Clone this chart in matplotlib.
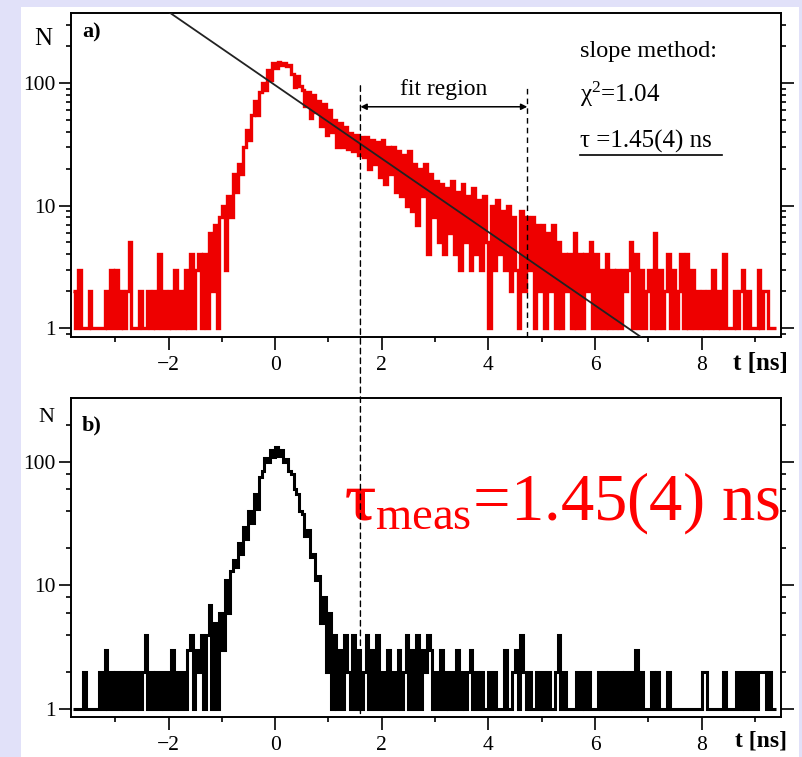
import numpy as np
import matplotlib.pyplot as plt
from matplotlib.patches import Rectangle, ConnectionPatch
from matplotlib.ticker import LogLocator, NullFormatter

plt.rcParams['font.family'] = ['Liberation Serif', 'DejaVu Serif']
plt.rcParams['mathtext.fontset'] = 'custom'
plt.rcParams['mathtext.rm'] = 'Liberation Serif'
plt.rcParams['mathtext.it'] = 'Liberation Serif:italic'
plt.rcParams['mathtext.bf'] = 'Liberation Serif:bold'

# histogram binning: 0.05 ns bins starting at -3.8 ns (20 bins per row = 1 ns)
bin_start = -3.8
bin_width = 0.05

# a) measured time spectrum (red)
counts_a = [
    2, 1, 3, 1, 1, 1, 2, 1, 1, 1, 1, 1, 2, 1, 3, 1, 3, 1, 2, 1,
    2, 5, 1, 1, 1, 2, 1, 1, 2, 1, 2, 1, 4, 1, 2, 1, 2, 1, 3, 1,
    2, 1, 3, 1, 4, 1, 3, 4, 1, 4, 1, 6, 2, 7, 1, 8, 10, 3, 12, 8,
    18, 13, 22, 18, 30, 41, 34, 55, 72, 55, 85, 100, 88, 128, 105, 145, 132, 148, 140, 146,
    138, 140, 118, 92, 115, 95, 88, 65, 85, 52, 80, 58, 72, 45, 68, 38, 60, 40, 50, 30,
    47, 30, 44, 29, 39, 28, 38, 26, 36, 25, 36, 20, 34, 22, 33, 17, 34, 15, 30, 18,
    30, 13, 28, 12, 26, 10, 28, 9, 22, 7, 20, 12, 22, 4, 18, 8, 16, 5, 15, 4,
    14, 6, 16, 4, 13, 3, 15, 5, 12, 3, 14, 4, 11, 3, 12, 5, 1, 10, 3, 11,
    4, 9, 3, 10, 2, 8, 3, 1, 9, 2, 8, 3, 8, 1, 7, 2, 7, 1, 6, 2,
    7, 1, 5, 1, 4, 2, 4, 1, 6, 1, 4, 1, 4, 2, 5, 1, 4, 1, 3, 1,
    4, 1, 3, 1, 3, 1, 3, 2, 3, 5, 1, 4, 1, 3, 1, 2, 3, 1, 6, 1,
    3, 1, 2, 4, 1, 3, 1, 2, 4, 1, 4, 1, 3, 1, 2, 1, 2, 1, 2, 1,
    3, 1, 2, 1, 4, 1, 1, 1, 2, 1, 2, 3, 1, 2, 1, 1, 1, 3, 1, 2,
    2, 1, 1, 1,
]

# b) prompt / reference spectrum (black)
counts_b = [
    1, 1, 1, 1, 2, 1, 1, 1, 1, 1, 2, 1, 3, 1, 2, 1, 2, 1, 2, 1,
    2, 1, 2, 1, 2, 1, 2, 4, 1, 2, 1, 2, 1, 2, 1, 2, 1, 3, 1, 2,
    1, 2, 1, 3, 4, 1, 3, 2, 4, 1, 4, 7, 1, 5, 1, 6, 3, 11, 6, 13,
    16, 14, 22, 18, 30, 24, 40, 32, 55, 42, 75, 85, 108, 100, 125, 110, 132, 112, 125, 100,
    105, 85, 80, 60, 55, 40, 38, 25, 28, 17, 18, 11, 12, 5, 8, 2, 6, 1, 4, 1,
    3, 1, 4, 2, 1, 4, 1, 3, 1, 2, 4, 1, 3, 1, 4, 1, 2, 1, 3, 1,
    2, 1, 3, 1, 2, 4, 1, 3, 1, 4, 1, 3, 2, 4, 3, 1, 2, 1, 3, 1,
    2, 1, 2, 1, 3, 1, 2, 1, 2, 3, 1, 2, 1, 2, 1, 1, 2, 1, 2, 1,
    1, 1, 3, 1, 1, 2, 3, 1, 4, 2, 1, 2, 1, 1, 2, 1, 2, 1, 2, 1,
    1, 2, 4, 1, 2, 1, 1, 1, 1, 2, 1, 2, 1, 2, 1, 1, 1, 2, 1, 2,
    1, 2, 1, 2, 1, 2, 1, 2, 1, 2, 1, 3, 1, 2, 1, 1, 1, 2, 1, 2,
    1, 1, 1, 2, 1, 1, 1, 1, 1, 1, 1, 1, 1, 1, 1, 1, 2, 2, 1, 1,
    1, 1, 1, 1, 2, 1, 1, 1, 1, 2, 1, 2, 1, 2, 1, 2, 1, 2, 2, 2,
    1, 2, 1, 1,
]

# slope-method fit: N(t) = amp * exp(-t / tau)
fit_amp = 96.0
fit_tau = 1.45
fit_region = [1.6, 4.73]   # ns
fit_marker_top = 95        # height of dashed markers (counts)
arrow_level = 64

xticks = [-2, 0, 2, 4, 6, 8]
xminor = [-3, -1, 1, 3, 5, 7, 9]
yticks = [1, 10, 100]
ytick_labels = ['1', '10', '100']
xlim = (-3.83, 9.49)

red = '#EE0000'
lavender = '#E1E1F9'

fig = plt.figure(figsize=(8.03, 7.57), dpi=100)
fig.patch.set_facecolor(lavender)
fig.patches.append(Rectangle((21 / 803, 0), 778 / 803, 750 / 757,
                             transform=fig.transFigure, facecolor='white',
                             edgecolor='none', zorder=-10))

ax1 = fig.add_axes([71 / 803, 1 - 337 / 757, 710 / 803, 324 / 757])
ax2 = fig.add_axes([71 / 803, 1 - 717 / 757, 710 / 803, 319 / 757])

edges_a = bin_start + bin_width * np.arange(len(counts_a) + 1)
edges_b = bin_start + bin_width * np.arange(len(counts_b) + 1)

ax1.stairs(counts_a, edges_a, baseline=None, color=red, lw=2.4, zorder=2)
ax2.stairs(counts_b, edges_b, baseline=None, color='black', lw=2.2, zorder=2)

# fit line (straight on log axis)
ax1.plot(xlim, [fit_amp * np.exp(-x / fit_tau) for x in xlim],
         color='#222222', lw=1.3, zorder=3)

for ax, ylim, subs in ((ax1, (0.845, 373), np.arange(2, 10)),
                       (ax2, (0.861, 330), [2, 4, 6, 8])):
    ax.set_yscale('log')
    ax.set_xlim(*xlim)
    ax.set_ylim(*ylim)
    ax.set_yticks(yticks, labels=ytick_labels)
    ax.yaxis.set_minor_locator(LogLocator(base=10, subs=subs))
    ax.yaxis.set_minor_formatter(NullFormatter())
    ax.set_xticks(xticks)
    ax.set_xticks(xminor, minor=True)
    ax.tick_params(which='both', direction='out', top=False, right=True,
                   labelright=False, width=1.2, colors='black')
    ax.tick_params(which='major', length=9)
    ax.tick_params(which='minor', length=3.5)
    ax.tick_params(axis='x', labelsize=15.5, pad=5)
    ax.tick_params(axis='y', labelsize=15.5, pad=2)
    for s in ax.spines.values():
        s.set_linewidth(1.4)

# fit-region markers
ax1.plot([fit_region[1], fit_region[1]], [ax1.get_ylim()[0], fit_marker_top],
         color='black', lw=1, ls=(0, (4, 3)), zorder=4)
con = ConnectionPatch(xyA=(fit_region[0], fit_marker_top), coordsA=ax1.transData,
                      xyB=(fit_region[0], ax2.get_ylim()[0]), coordsB=ax2.transData,
                      color='black', lw=1, ls=(0, (4, 3)), zorder=4)
fig.add_artist(con)
ax1.annotate('', xy=(fit_region[0], arrow_level), xytext=(fit_region[1], arrow_level),
             arrowprops=dict(arrowstyle='<|-|>', color='black', lw=1.1,
                             mutation_scale=9, shrinkA=0, shrinkB=0))
ax1.text(np.mean(fit_region), 0.747, 'fit region', transform=ax1.get_xaxis_transform(),
         ha='center', va='baseline', fontsize=17)

# labels panel a
ax1.text(0.0155, 0.923, 'a)', transform=ax1.transAxes, fontsize=16, fontweight='bold',
         va='baseline')
ax1.text(-0.039, 0.901, 'N', transform=ax1.transAxes, fontsize=18, ha='center',
         va='baseline')
ax1.text(0.932, -0.102, 't [ns]', transform=ax1.transAxes, fontsize=18,
         fontweight='bold', va='baseline')
ax1.text(0.717, 0.864, 'slope method:', transform=ax1.transAxes, fontsize=17.5,
         va='baseline')
ax1.text(0.717, 0.725, 'χ$^{2}$=1.04', transform=ax1.transAxes, fontsize=18,
         va='baseline')
ax1.text(0.717, 0.586, 'τ =1.45(4) ns', transform=ax1.transAxes, fontsize=18,
         va='baseline')
ax1.plot([0.717, 0.917], [0.562, 0.562], transform=ax1.transAxes, color='black',
         lw=1.2, clip_on=False)

# labels panel b
ax2.text(0.0155, 0.897, 'b)', transform=ax2.transAxes, fontsize=16, fontweight='bold',
         va='baseline')
ax2.text(-0.034, 0.925, 'N', transform=ax2.transAxes, fontsize=16, ha='center',
         va='baseline')
ax2.text(0.935, -0.091, 't [ns]', transform=ax2.transAxes, fontsize=17,
         fontweight='bold', va='baseline')
ax2.text(0.3845, 0.618, r'$\mathbf{τ}_{\mathrm{meas}}$=1.45(4) ns', transform=ax2.transAxes,
         fontsize=48, color='#FF0000', va='baseline', zorder=6)

fig.savefig('out.png', dpi=100, facecolor=fig.get_facecolor())
